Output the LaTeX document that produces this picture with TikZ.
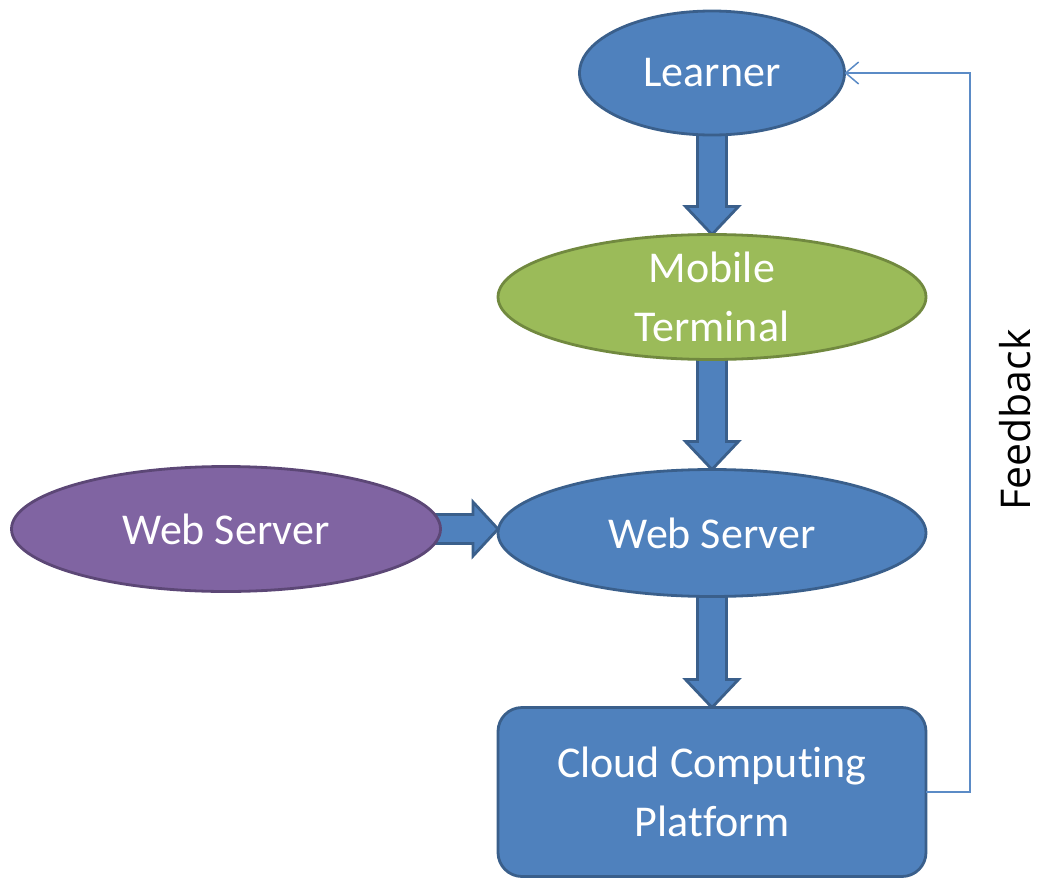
\documentclass[tikz,border=0pt]{standalone}
\usepackage{fontspec}
\setmainfont{Carlito}[Ligatures=NoCommon]
\newfontfamily\fbfont{Open Sans}
\usetikzlibrary{shapes.geometric,arrows.meta,calc,backgrounds}

\definecolor{boxblue}{HTML}{4F81BD}
\definecolor{boxblueedge}{HTML}{3A5F8B}
\definecolor{boxgreen}{HTML}{9BBB59}
\definecolor{boxgreenedge}{HTML}{71893F}
\definecolor{boxpurple}{HTML}{8064A2}
\definecolor{boxpurpleedge}{HTML}{5C4776}
\definecolor{fbline}{HTML}{5B8BC6}

\tikzset{
  shapebase/.style={line width=2.8pt, inner sep=0pt, outer sep=0pt},
  oval/.style={shapebase, ellipse, fill=boxblue, draw=boxblueedge},
  greenoval/.style={oval, fill=boxgreen, draw=boxgreenedge},
  purpleoval/.style={oval, fill=boxpurple, draw=boxpurpleedge},
  roundbox/.style={shapebase, rectangle, rounded corners=24pt, fill=boxblue, draw=boxblueedge},
  lbl/.style={text=white, align=center, font=\fontsize{44}{59}\selectfont},
  blockarrow/.style={fill=boxblue, draw=boxblueedge, line width=2.8pt, line join=miter},
  fb/.style={draw=fbline, line width=1.5pt, -{Straight Barb[length=13pt,width=22pt,line width=1.5pt]}},
}

% vertical block arrow from the bottom of #1 to the top of #2
\newcommand\blockdown[2]{%
  \path[blockarrow] let \p1=(#1.south), \p2=(#2.north) in
    (\x1-14.5pt,\y1+6pt) -- (\x1-14.5pt,\y2+28pt) -- (\x1-26.5pt,\y2+28pt)
    -- (\x1,\y2) -- (\x1+26.5pt,\y2+28pt) -- (\x1+14.5pt,\y2+28pt)
    -- (\x1+14.5pt,\y1+6pt) -- cycle;}

% horizontal block arrow from the right of #1 to the left of #2
\newcommand\blockright[2]{%
  \path[blockarrow] let \p1=(#1.east), \p2=(#2.west) in
    (\x1-6pt,\y1+14.5pt) -- (\x2-25pt,\y1+14.5pt) -- (\x2-25pt,\y1+27pt)
    -- (\x2,\y1) -- (\x2-25pt,\y1-27pt) -- (\x2-25pt,\y1-14.5pt)
    -- (\x1-6pt,\y1-14.5pt) -- cycle;}

\begin{document}
\begin{tikzpicture}[x=1pt,y=-1pt]
\useasboundingbox (0,0) rectangle (1042,881);

% shapes
\node[oval, minimum width=265pt, minimum height=124pt] (learner) at (712,73) {};
\node[greenoval, minimum width=428pt, minimum height=125pt] (mobile) at (712,297) {};
\node[oval, minimum width=428pt, minimum height=127pt] (web) at (712,533) {};
\node[purpleoval, minimum width=429pt, minimum height=125pt] (webleft) at (226,529) {};
\node[roundbox, minimum width=428pt, minimum height=169pt] (cloud) at (712,792) {};

% captions
\node[lbl] (learnertxt) at (learner.center) {Learner};
\node[lbl] (mobiletxt) at (mobile.center) {Mobile\\Terminal};
\node[lbl] (webtxt) at (web.center) {Web Server};
\node[lbl] (weblefttxt) at (webleft.center) {Web Server};
\node[lbl] (cloudtxt) at (cloud.center) {Cloud Computing\\Platform};

% block arrows behind the shapes
\begin{scope}[on background layer]
  \blockdown{learner}{mobile}
  \blockdown{mobile}{web}
  \blockdown{web}{cloud}
  \blockright{webleft}{web}
\end{scope}

% feedback loop
\coordinate (fbx) at (970,0);
\draw[fb] (cloud.east) -- (cloud.east -| fbx) -- (learner.east -| fbx) -- (learner.east);
\node[rotate=90, anchor=base, inner sep=0pt, font=\fbfont\fontsize{41}{48}\selectfont] (fblabel) at (1030,420) {Feedback};
\end{tikzpicture}
\end{document}
